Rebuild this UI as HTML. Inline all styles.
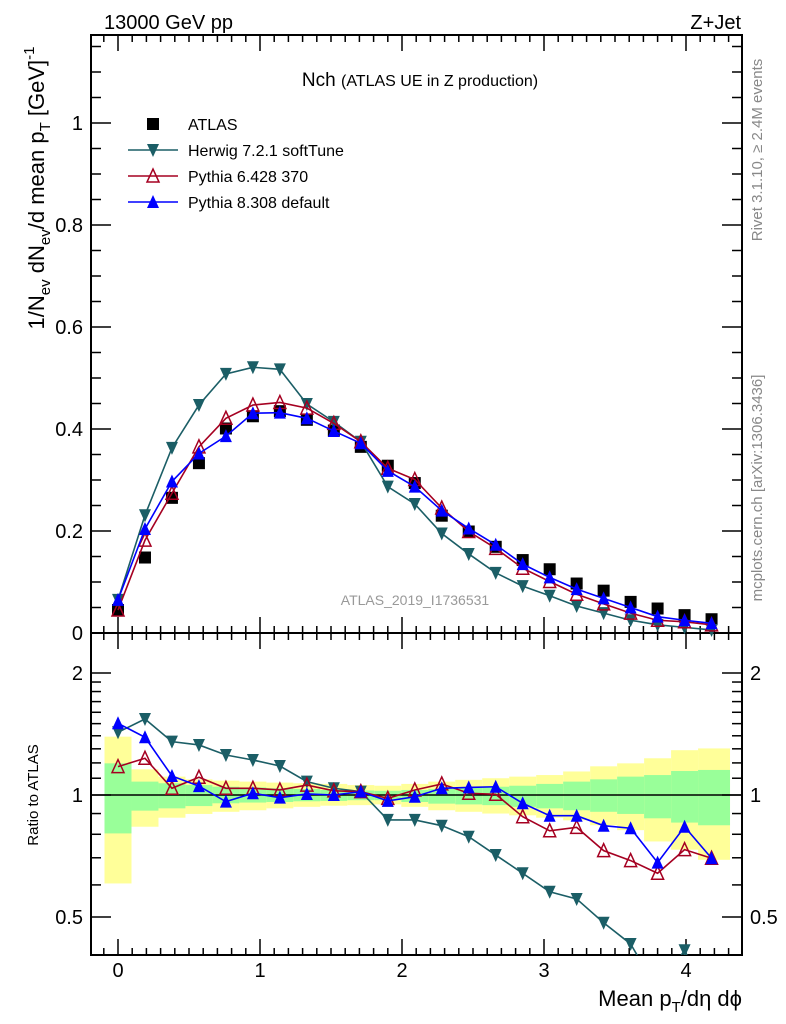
<!DOCTYPE html>
<html><head><meta charset="utf-8"><style>
html,body{margin:0;padding:0;background:#fff;}
svg{display:block;font-family:"Liberation Sans",sans-serif;}
</style></head><body>
<svg width="786" height="1024" viewBox="0 0 786 1024" xmlns="http://www.w3.org/2000/svg">
<text x="104" y="29" font-size="20">13000 GeV pp</text>
<text x="741" y="29" font-size="20" text-anchor="end">Z+Jet</text>
<text x="420" y="86" text-anchor="middle" font-size="19">Nch <tspan font-size="16">(ATLAS UE in Z production)</tspan></text>
<text x="415" y="605" text-anchor="middle" font-size="14" fill="#999">ATLAS_2019_I1736531</text>
<text transform="translate(762,150) rotate(-90)" text-anchor="middle" font-size="15" fill="#888">Rivet 3.1.10, ≥ 2.4M events</text>
<text transform="translate(762,488) rotate(-90)" text-anchor="middle" font-size="15" fill="#888">mcplots.cern.ch [arXiv:1306.3436]</text>
<text transform="translate(44,188) rotate(-90)" text-anchor="middle" font-size="22">1/N<tspan font-size="15" dy="6">ev</tspan><tspan dy="-6"> dN</tspan><tspan font-size="15" dy="6">ev</tspan><tspan dy="-6">/d mean p</tspan><tspan font-size="15" dy="6">T</tspan><tspan dy="-6">  [GeV]</tspan><tspan font-size="15" dy="-10">-1</tspan></text>
<text transform="translate(38,795) rotate(-90)" text-anchor="middle" font-size="15">Ratio to ATLAS</text>
<text x="742" y="1006" text-anchor="end" font-size="22">Mean p<tspan font-size="15" dy="6">T</tspan><tspan dy="-6">/dη dϕ</tspan></text>
</svg>
<script>
var xs=[0,0.19,0.38,0.57,0.76,0.95,1.14,1.33,1.52,1.71,1.9,2.09,2.28,2.47,2.66,2.85,3.04,3.23,3.42,3.61,3.8,3.99,4.18];
var atlas=[0.045,0.148,0.265,0.333,0.401,0.425,0.435,0.418,0.397,0.365,0.328,0.294,0.23,0.199,0.169,0.143,0.125,0.097,0.083,0.061,0.048,0.035,0.027];
var herwig=[0.065,0.231,0.363,0.447,0.508,0.521,0.517,0.449,0.414,0.375,0.287,0.253,0.195,0.155,0.118,0.092,0.073,0.053,0.039,0.025,0.016,0.011,0.006];
var py6=[0.045,0.182,0.274,0.365,0.421,0.447,0.452,0.441,0.411,0.375,0.323,0.301,0.245,0.199,0.166,0.127,0.101,0.076,0.057,0.039,0.025,0.022,0.016];
var py8=[0.065,0.204,0.297,0.352,0.386,0.431,0.432,0.421,0.396,0.372,0.318,0.287,0.24,0.205,0.173,0.135,0.109,0.086,0.068,0.05,0.032,0.025,0.019];
var rHerwig=[1.428,1.54,1.354,1.329,1.255,1.22,1.179,1.079,1.039,1.019,0.868,0.868,0.84,0.789,0.711,0.641,0.577,0.554,0.484,0.429,0.33,0.414,0.3];
var rPy6=[1.175,1.232,1.039,1.106,1.039,1.039,1.029,1.058,1.024,1.019,0.981,1.029,1.065,1.01,1.004,0.884,0.816,0.832,0.729,0.689,0.641,0.733,0.698];
var rPy8=[1.503,1.388,1.114,1.052,0.963,1.01,0.985,1.006,1.0,1.019,0.967,0.99,1.039,1.044,1.048,0.954,0.889,0.889,0.84,0.828,0.681,0.835,0.698];
var yelHi=[1.393,1.157,1.11,1.093,1.085,1.079,1.073,1.069,1.065,1.058,1.054,1.065,1.079,1.09,1.1,1.11,1.12,1.143,1.177,1.197,1.232,1.29,1.303];
var yelLo=[0.605,0.835,0.879,0.898,0.909,0.917,0.927,0.935,0.941,0.944,0.948,0.935,0.917,0.909,0.9,0.891,0.879,0.866,0.842,0.819,0.768,0.733,0.692];
var grnHi=[1.197,1.079,1.069,1.058,1.048,1.044,1.039,1.035,1.029,1.026,1.024,1.029,1.035,1.043,1.048,1.054,1.065,1.079,1.093,1.11,1.12,1.146,1.153];
var grnLo=[0.804,0.915,0.927,0.939,0.954,0.958,0.961,0.965,0.967,0.971,0.971,0.961,0.952,0.948,0.944,0.935,0.927,0.917,0.909,0.898,0.876,0.855,0.842];
var mainTicks=[0,0.2,0.4,0.6,0.8,1];
var mainTickLabels=["0","0.2","0.4","0.6","0.8","1"];
var xTicks=[0,1,2,3,4];
var ratioTicks=[0.5,1,2];
var ratioTickLabels=["0.5","1","2"];

var NS="http://www.w3.org/2000/svg";
var PL=91,PR=742,PT=35,MB=633,RB=955;
function X(v){return 118+v*142;}
function Y(v){return 633-v*510;}
function RY(v){return 795-Math.log2(v)*122;}
function mk(tag,attrs,parent){var e=document.createElementNS(NS,tag);for(var k in attrs)e.setAttribute(k,attrs[k]);parent.appendChild(e);return e;}
var svgRoot=document.querySelector('svg');
var first=svgRoot.firstChild;
function grp(name){var g=document.createElementNS(NS,'g');svgRoot.insertBefore(g,first);
  
  
  return g;}
var gBands=grp('uncertainty-bands');
var gAxes=grp('axes');
var gSeries=grp('series');
var gLegend=grp('legend');

try{
for(var i=0;i<xs.length;i++){
  var x0=X(i==0?-0.095:(xs[i-1]+xs[i])/2), x1=X(i==xs.length-1?4.31:(xs[i]+xs[i+1])/2);
  var yb=mk('rect',{x:x0,y:RY(yelHi[i]),width:x1-x0,height:RY(yelLo[i])-RY(yelHi[i]),fill:'#ffff99'},gBands);
  
  
  var gb=mk('rect',{x:x0,y:RY(grnHi[i]),width:x1-x0,height:RY(grnLo[i])-RY(grnHi[i]),fill:'#99ff99'},gBands);
  
  
}
}catch(e){}

try{
mk('line',{x1:PL,x2:PR,y1:RY(1),y2:RY(1),stroke:'#000','stroke-width':1.5},gAxes);
mk('rect',{x:PL,y:PT,width:PR-PL,height:MB-PT,fill:'none',stroke:'#000','stroke-width':2},gAxes);
mk('rect',{x:PL,y:MB,width:PR-PL,height:RB-MB,fill:'none',stroke:'#000','stroke-width':2},gAxes);
for(var k=-1;k<=43;k++){var v=k/10;var x=X(v);if(x<PL||x>PR)continue;var maj=(k%10==0);var len=maj?16:7;
  [[MB,-1],[PT,1],[RB,-1],[MB,1]].forEach(function(p){mk('line',{x1:x,x2:x,y1:p[0],y2:p[0]+p[1]*len,stroke:'#000','stroke-width':1.5},gAxes);});}
xTicks.forEach(function(v){var t=mk('text',{x:X(v),y:977,'text-anchor':'middle','font-size':20},gAxes);t.textContent=String(v);
  
  });
for(var k2=0;k2<=23;k2++){var yv=Y(k2*0.05);if(yv<PT)continue;var len2=(k2%4==0)?20:10;
  mk('line',{x1:PL,x2:PL+len2,y1:yv,y2:yv,stroke:'#000','stroke-width':1.5},gAxes);
  mk('line',{x1:PR,x2:PR-len2,y1:yv,y2:yv,stroke:'#000','stroke-width':1.5},gAxes);}
mainTicks.forEach(function(v,i){var t=mk('text',{x:83,y:Y(v)+7,'text-anchor':'end','font-size':20},gAxes);t.textContent=mainTickLabels[i];
  
  });
[0.4,0.5,0.6,0.7,0.8,0.9,1,1.1,1.2,1.3,1.4,1.5,1.6,1.7,1.8,1.9,2,3].forEach(function(v){var y=RY(v);if(y<MB||y>RB)return;var maj=(v==0.5||v==1||v==2);var len=maj?20:10;
  mk('line',{x1:PL,x2:PL+len,y1:y,y2:y,stroke:'#000','stroke-width':1.5},gAxes);
  mk('line',{x1:PR,x2:PR-len,y1:y,y2:y,stroke:'#000','stroke-width':1.5},gAxes);});
ratioTicks.forEach(function(v,i){[[83,'end'],[750,'start']].forEach(function(p){var t=mk('text',{x:p[0],y:RY(v)+7,'text-anchor':p[1],'font-size':20},gAxes);t.textContent=ratioTickLabels[i];
  
  });});
}catch(e){}

function marker(type,x,y,col,g){
  var s=6;
  if(type=='sq') return mk('rect',{x:x-s,y:y-s,width:2*s,height:2*s,fill:'#000'},g);
  if(type=='down') return mk('polygon',{points:(x-s)+','+(y-s)+' '+(x+s)+','+(y-s)+' '+x+','+(y+s+1),fill:col},g);
  if(type=='up') return mk('polygon',{points:(x-s)+','+(y+s)+' '+(x+s)+','+(y+s)+' '+x+','+(y-s-1),fill:col},g);
  return mk('polygon',{points:(x-s)+','+(y+s)+' '+(x+s)+','+(y+s)+' '+x+','+(y-s-1),fill:'none',stroke:col,'stroke-width':1.5},g);
}
try{
var defs=mk('defs',{},svgRoot);
var cp=mk('clipPath',{id:'rclip'},defs);
mk('rect',{x:PL,y:MB,width:PR-PL,height:RB-MB},cp);
}catch(e){}
function drawSeries(name,vals,yf,col,type,line,clip){
  var g=mk('g',{},gSeries);
  
  
  if(clip) g.setAttribute('clip-path','url(#rclip)');
  if(line){mk('polyline',{points:xs.map(function(x,i){return X(x)+','+yf(vals[i]);}).join(' '),fill:'none',stroke:col,'stroke-width':1.6},g);}
  xs.forEach(function(x,i){var m=marker(type,X(x),yf(vals[i]),col,g);
    
    });
}
try{
drawSeries('atlas-data',atlas,Y,'#000','sq',false,false);
drawSeries('herwig-line',herwig,Y,'#1b5e66','down',true,false);
drawSeries('pythia6-line',py6,Y,'#a50021','upo',true,false);
drawSeries('pythia8-line',py8,Y,'#0000ff','up',true,false);
drawSeries('herwig-ratio',rHerwig,RY,'#1b5e66','down',true,true);
drawSeries('pythia6-ratio',rPy6,RY,'#a50021','upo',true,true);
drawSeries('pythia8-ratio',rPy8,RY,'#0000ff','up',true,true);
}catch(e){}

try{
var leg=[['ATLAS','#000','sq',false],['Herwig 7.2.1 softTune','#1b5e66','down',true],['Pythia 6.428 370','#a50021','upo',true],['Pythia 8.308 default','#0000ff','up',true]];
leg.forEach(function(e,i){var y=124+i*26;var g=mk('g',{},gLegend);
  
  
  if(e[3])mk('line',{x1:128,x2:178,y1:y,y2:y,stroke:e[1],'stroke-width':1.6},g);
  marker(e[2],153,y,e[1],g);
  var t=mk('text',{x:188,y:y+6,'font-size':16},g);t.textContent=e[0];});
}catch(e){}
</script>
</body></html>
